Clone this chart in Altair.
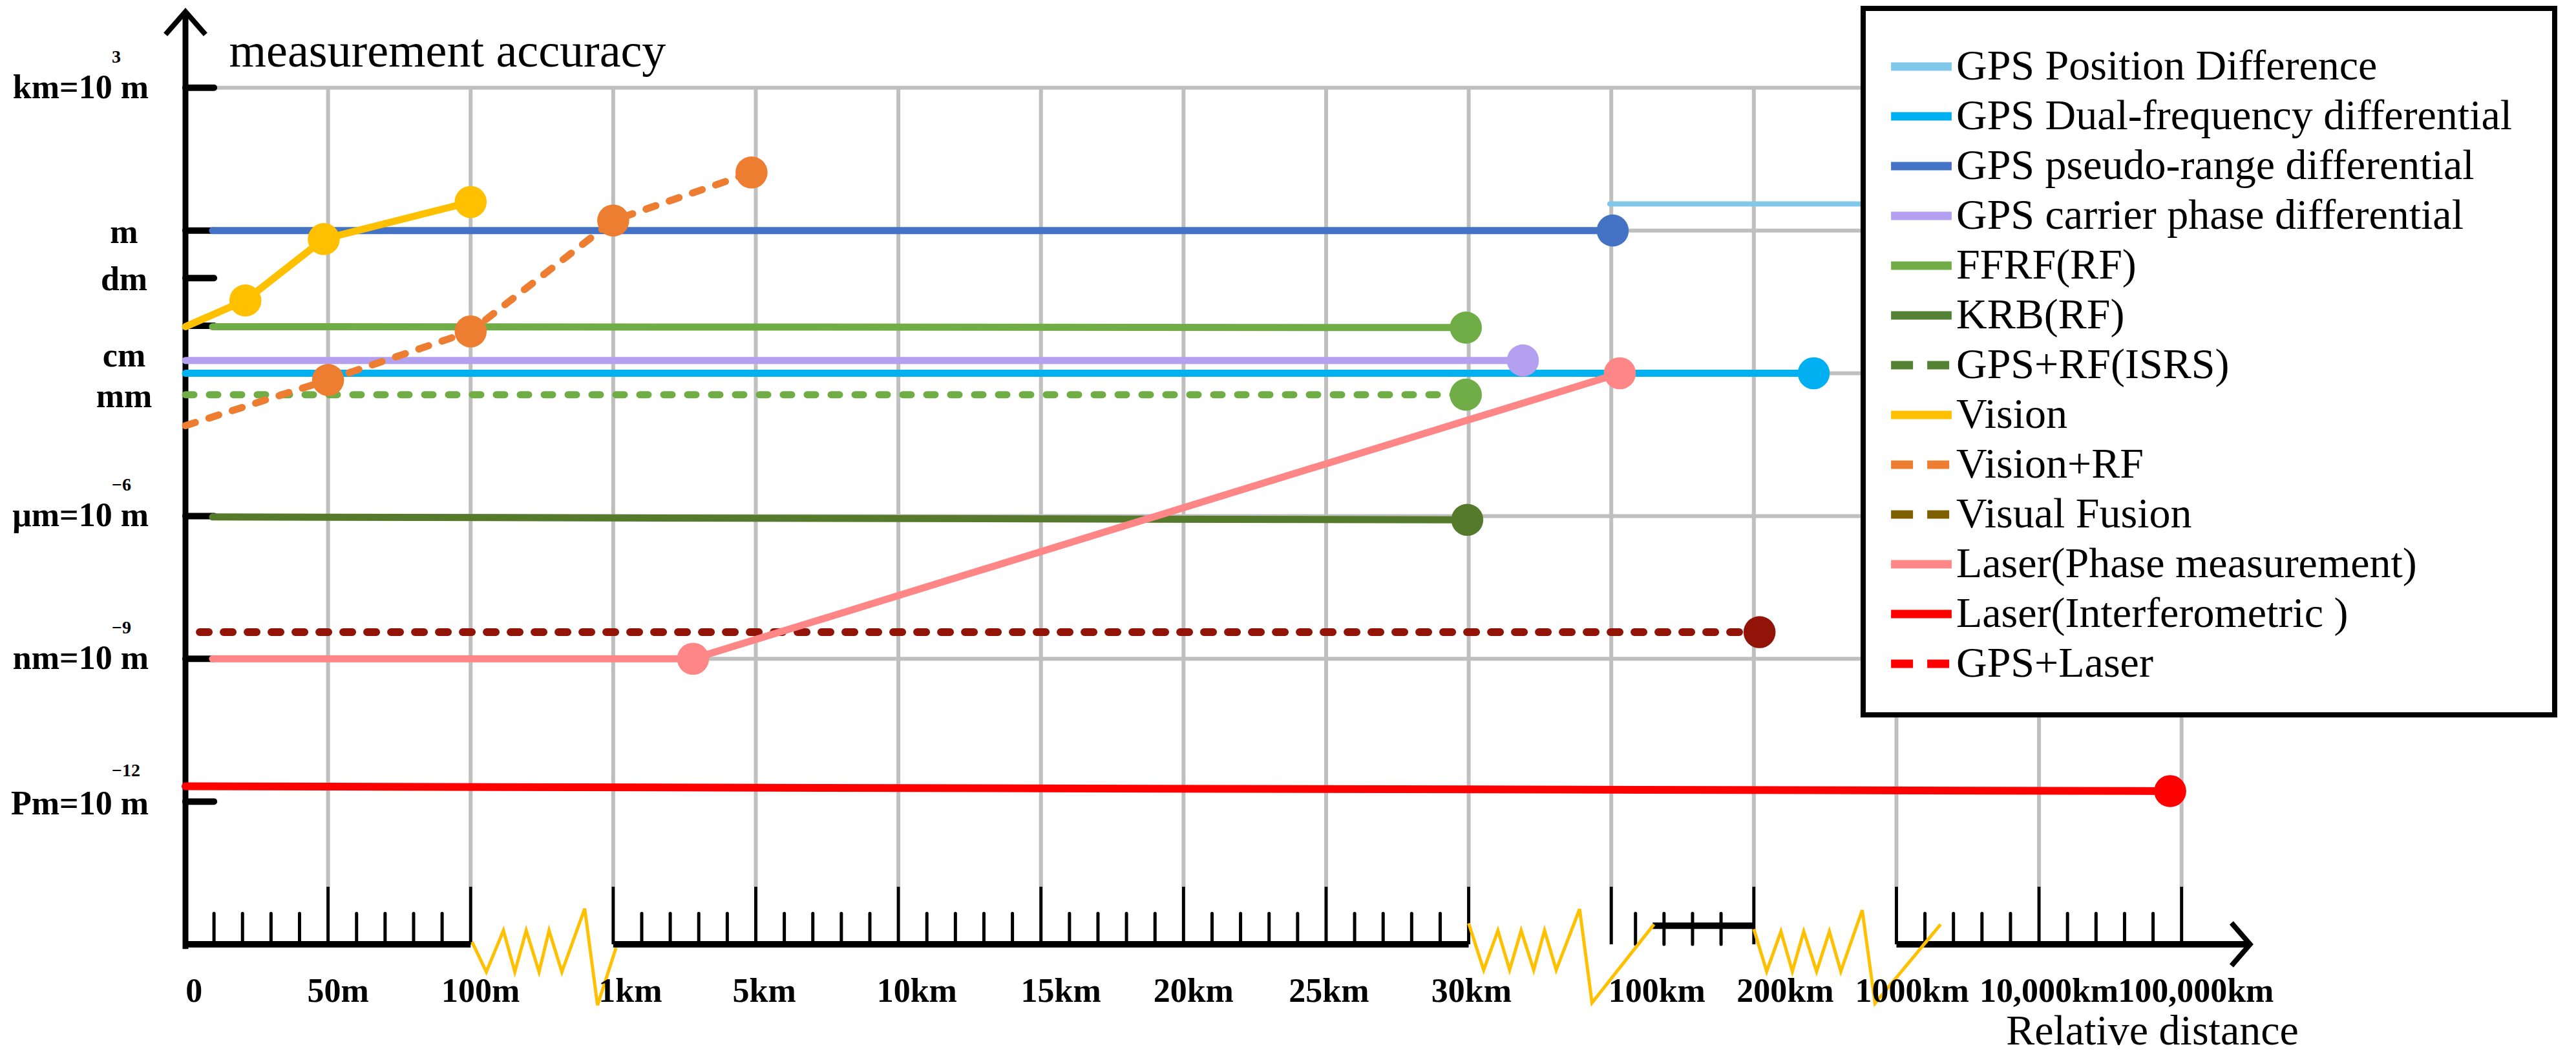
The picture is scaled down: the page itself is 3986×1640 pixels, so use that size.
import altair as alt
import pandas as pd

FONT = "Liberation Serif"

# ---------------- data ----------------
# x: position on the broken distance axis (0=0, 1=50m, 2=100m, 3=1km, 4=5km, 5=10km, 6=15km,
#    7=20km, 8=25km, 9=30km, 10=100km, 11=200km, 12=1000km, 13=10,000km, 14=100,000km)
# y: log10 of the measurement accuracy in metres

SERIES = [
    "GPS Position Difference",
    "GPS Dual-frequency differential",
    "GPS pseudo-range differential",
    "GPS carrier phase differential",
    "FFRF(RF)",
    "KRB(RF)",
    "GPS+RF(ISRS)",
    "Vision",
    "Vision+RF",
    "Visual Fusion",
    "Laser(Phase measurement)",
    "Laser(Interferometric )",
    "GPS+Laser",
]
LEGEND_COLORS = ["#7FC8EA", "#00B0F0", "#4472C4", "#B4A0F0", "#70AD47", "#548235",
                 "#548235", "#FFC000", "#ED7D31", "#7F6000", "#FF8686", "#FF0000", "#FF0000"]
LEGEND_DASHES = [[1, 0], [1, 0], [1, 0], [1, 0], [1, 0], [1, 0],
                 [34, 22], [1, 0], [34, 22], [34, 22], [1, 0], [1, 0], [34, 22]]

GPS_POS_X = [9.99, 14.0]
GPS_POS_Y = [0.56, 0.56]
GPS_POS_MARK = [False, False]

GPS_DUAL_X = [0.0, 11.42]
GPS_DUAL_Y = [-3.0, -3.0]
GPS_DUAL_MARK = [False, True]

GPS_PSEUDO_X = [0.19, 10.01]
GPS_PSEUDO_Y = [0.0, 0.0]
GPS_PSEUDO_MARK = [False, True]

GPS_CARRIER_X = [0.0, 9.38]
GPS_CARRIER_Y = [-2.73, -2.73]
GPS_CARRIER_MARK = [False, True]

FFRF_X = [0.19, 8.98]
FFRF_Y = [-2.02, -2.04]
FFRF_MARK = [False, True]

KRB_X = [0.19, 8.99]
KRB_Y = [-6.02, -6.08]
KRB_MARK = [False, True]

ISRS_X = [0.0, 8.98]
ISRS_Y = [-3.45, -3.45]
ISRS_MARK = [False, True]

VISION_X = [0.0, 0.42, 0.97, 2.0]
VISION_Y = [-2.02, -1.47, -0.18, 0.6]
VISION_MARK = [False, True, True, True]

VISION_RF_X = [0.0, 1.0, 2.0, 3.0, 3.97]
VISION_RF_Y = [-4.1, -3.14, -2.12, 0.21, 1.22]
VISION_RF_MARK = [False, True, True, True, True]

LASER_PHASE_X = [0.19, 3.56, 10.06]
LASER_PHASE_Y = [-9.0, -9.0, -3.0]
LASER_PHASE_MARK = [False, True, True]

LASER_INTER_X = [0.0, 13.92]
LASER_INTER_Y = [-11.68, -11.78]
LASER_INTER_MARK = [False, True]

GPS_LASER_X = [0.1, 11.04]
GPS_LASER_Y = [-8.44, -8.44]
GPS_LASER_MARK = [False, True]

# axis furniture
Y_TICKS = [3, 0, -1, -2, -6, -9, -12]
Y_GRID = [3, 0, -3, -6, -9]
Y_LONG_TEXT = ["km=10 m", "μm=10 m", "nm=10 m", "Pm=10 m"]
Y_LONG_POS = [3, -6, -9, -12.05]
Y_SUP_TEXT = ["3", "−6", "−9", "−12"]
Y_SUP_POS = [3, -6, -9, -12]
Y_SHORT_TEXT = ["m", "dm", "cm", "mm"]
Y_SHORT_POS = [-0.05, -1.04, -2.64, -3.49]

X_MAJOR = list(range(1, 15))
X_MINOR = [0.2, 0.4, 0.6, 0.8, 1.2, 1.4, 1.6, 1.8,
           3.2, 3.4, 3.6, 3.8, 4.2, 4.4, 4.6, 4.8, 5.2, 5.4, 5.6, 5.8,
           6.2, 6.4, 6.6, 6.8, 7.2, 7.4, 7.6, 7.8, 8.2, 8.4, 8.6, 8.8,
           10.17, 10.37, 10.57, 10.77,
           12.2, 12.4, 12.6, 12.8, 13.2, 13.4, 13.6, 13.8]
X_BASE_START = [0.0, 3.0, 12.0]
X_BASE_END = [2.0, 9.0, 14.48]
X_RAISED_START = [10.29]
X_RAISED_END = [11.0]
X_LABEL_TEXT = ["0", "50m", "100m", "1km", "5km", "10km", "15km", "20km", "25km",
                "30km", "100km", "200km", "1000km", "10,000km", "100,000km"]
X_LABEL_POS = [0.06, 1.07, 2.07, 3.12, 4.06, 5.13, 6.14, 7.07, 8.02, 9.02,
               10.32, 11.22, 12.11, 13.07, 14.1]

ZIG1_X = [2.01, 2.11, 2.23, 2.31, 2.39, 2.48, 2.55, 2.64, 2.80, 2.89, 3.02]
ZIG1_Y = [-14.95, -15.58, -14.71, -15.58, -14.71, -15.58, -14.71, -15.58, -14.25, -16.28, -15.07]
ZIG2_X = [9.0, 9.105, 9.205, 9.287, 9.368, 9.456, 9.532, 9.614, 9.778, 9.865, 10.30]
ZIG2_Y = [-14.56, -15.54, -14.71, -15.54, -14.71, -15.54, -14.71, -15.54, -14.26, -16.23, -14.58]
ZIG3_X = [11.0, 11.09, 11.19, 11.27, 11.35, 11.44, 11.53, 11.61, 11.76, 11.85, 12.31]
ZIG3_Y = [-14.68, -15.57, -14.73, -15.57, -14.73, -15.57, -14.73, -15.57, -14.28, -16.24, -14.58]

Y_ARROW_X = [-0.14, 0.0, 0.14]
Y_ARROW_Y = [4.12, 4.6, 4.12]
X_ARROW_X = [14.35, 14.48, 14.35]
X_ARROW_Y = [-14.55, -15.0, -15.45]

# ---------------- styles ----------------
LINE_STYLE = {
    "GPS Position Difference": ("#7FC8EA", None, 8),
    "GPS Dual-frequency differential": ("#00B0F0", None, 11),
    "GPS pseudo-range differential": ("#4472C4", None, 11),
    "GPS carrier phase differential": ("#B4A0F0", None, 11),
    "FFRF(RF)": ("#70AD47", None, 11),
    "KRB(RF)": ("#557A2B", None, 11),
    "GPS+RF(ISRS)": ("#70AD47", [13, 24], 11),
    "Vision": ("#FFC000", None, 11),
    "Vision+RF": ("#ED7D31", [16, 22], 11),
    "Laser(Phase measurement)": ("#FF8686", None, 11),
    "Laser(Interferometric )": ("#FF0000", None, 12),
    "GPS+Laser": ("#921409", [14, 23], 12),
}
SERIES_DATA = {
    "GPS Position Difference": (GPS_POS_X, GPS_POS_Y, GPS_POS_MARK),
    "GPS Dual-frequency differential": (GPS_DUAL_X, GPS_DUAL_Y, GPS_DUAL_MARK),
    "GPS pseudo-range differential": (GPS_PSEUDO_X, GPS_PSEUDO_Y, GPS_PSEUDO_MARK),
    "GPS carrier phase differential": (GPS_CARRIER_X, GPS_CARRIER_Y, GPS_CARRIER_MARK),
    "FFRF(RF)": (FFRF_X, FFRF_Y, FFRF_MARK),
    "KRB(RF)": (KRB_X, KRB_Y, KRB_MARK),
    "GPS+RF(ISRS)": (ISRS_X, ISRS_Y, ISRS_MARK),
    "GPS+Laser": (GPS_LASER_X, GPS_LASER_Y, GPS_LASER_MARK),
    "Laser(Interferometric )": (LASER_INTER_X, LASER_INTER_Y, LASER_INTER_MARK),
    "Laser(Phase measurement)": (LASER_PHASE_X, LASER_PHASE_Y, LASER_PHASE_MARK),
    "Vision+RF": (VISION_RF_X, VISION_RF_Y, VISION_RF_MARK),
    "Vision": (VISION_X, VISION_Y, VISION_MARK),
}

GRID = "#BFBFBF"
W, H = 3199, 1443

XS = alt.Scale(domain=[0, 14.5], nice=False, zero=False)
YS = alt.Scale(domain=[-15, 4.6], nice=False, zero=False)
X_AXIS = alt.Axis(title="Relative distance", domain=False, ticks=False, labels=False, grid=False,
                  titleX=3043, titleY=154, titleAlign="center", titleBaseline="alphabetic", titleAngle=0,
                  titleFont=FONT, titleFontSize=66, titleFontWeight="normal", titleColor="black")
Y_AXIS = alt.Axis(title="measurement accuracy", domain=False, ticks=False, labels=False, grid=False,
                  titleX=67, titleY=84, titleAlign="left", titleBaseline="alphabetic", titleAngle=0,
                  titleFont=FONT, titleFontSize=74, titleFontWeight="normal", titleColor="black")


def X(f="x"):
    return alt.X(f"{f}:Q", scale=XS, axis=X_AXIS)


def Y(f="y"):
    return alt.Y(f"{f}:Q", scale=YS, axis=Y_AXIS)


layers = []

# legend carrier (invisible marks, visible legend)
carrier = pd.DataFrame({"series": [s for s in SERIES for _ in range(2)],
                        "x": [0.0] * (2 * len(SERIES)), "y": [-15.0] * (2 * len(SERIES))})
legend = alt.Legend(title=" ", titleOrient="right", titlePadding=20, titleFontSize=66, titleFont=FONT,
                    orient="none", legendX=2596, legendY=-5, direction="vertical",
                    symbolType="M-1.25,0H1.25", symbolSize=5625, symbolStrokeWidth=13, symbolOpacity=1,
                    symbolFillColor="transparent",
                    labelFont=FONT, labelFontSize=66, labelColor="black", labelOffset=10,
                    labelLimit=3000, rowPadding=0, padding=46,
                    strokeColor="black", fillColor="white")
layers.append(
    alt.Chart(carrier).mark_line(opacity=0, strokeWidth=13).encode(
        x=X(), y=Y(), detail="series:N",
        color=alt.Color("series:N", scale=alt.Scale(domain=SERIES, range=LEGEND_COLORS), legend=legend),
        strokeDash=alt.StrokeDash("series:N", scale=alt.Scale(domain=SERIES, range=LEGEND_DASHES), legend=legend),
    )
)

# gridlines
hgrid = pd.DataFrame({"y": Y_GRID, "x": [0.19] * len(Y_GRID), "x2": [14.0] * len(Y_GRID)})
layers.append(alt.Chart(hgrid).mark_rule(color=GRID, strokeWidth=6).encode(x=X(), x2="x2:Q", y=Y()))
vgrid = pd.DataFrame({"x": X_MAJOR, "y": [3.0] * len(X_MAJOR), "y2": [-13.79] * len(X_MAJOR)})
layers.append(alt.Chart(vgrid).mark_rule(color=GRID, strokeWidth=6).encode(x=X(), y=Y(), y2="y2:Q"))

# y axis line, ticks and arrow
yline = pd.DataFrame({"x": [0.0], "y": [-15.1], "y2": [4.6]})
layers.append(alt.Chart(yline).mark_rule(color="black", strokeWidth=9).encode(x=X(), y=Y(), y2="y2:Q"))
yt = pd.DataFrame({"y": Y_TICKS, "x": [0.0] * len(Y_TICKS), "x2": [0.2] * len(Y_TICKS)})
layers.append(alt.Chart(yt).mark_rule(color="black", strokeWidth=10, strokeCap="round").encode(x=X(), x2="x2:Q", y=Y()))
ya = pd.DataFrame({"x": Y_ARROW_X, "y": Y_ARROW_Y, "i": [0, 1, 2]})
layers.append(alt.Chart(ya).mark_line(color="black", strokeWidth=8, strokeJoin="miter").encode(x=X(), y=Y(), order="i:Q"))

# x axis ruler
base = pd.DataFrame({"x": X_BASE_START, "x2": X_BASE_END, "y": [-15.0] * len(X_BASE_START)})
layers.append(alt.Chart(base).mark_rule(color="black", strokeWidth=10).encode(x=X(), x2="x2:Q", y=Y()))
raised = pd.DataFrame({"x": X_RAISED_START, "x2": X_RAISED_END, "y": [-14.61]})
layers.append(alt.Chart(raised).mark_rule(color="black", strokeWidth=10).encode(x=X(), x2="x2:Q", y=Y()))
major = pd.DataFrame({"x": X_MAJOR, "y": [-15.0] * len(X_MAJOR), "y2": [-13.79] * len(X_MAJOR)})
layers.append(alt.Chart(major).mark_rule(color="black", strokeWidth=5).encode(x=X(), y=Y(), y2="y2:Q"))
minor = pd.DataFrame({"x": X_MINOR, "y": [-15.0] * len(X_MINOR), "y2": [-14.35] * len(X_MINOR)})
layers.append(alt.Chart(minor).mark_rule(color="black", strokeWidth=5, strokeCap="round").encode(x=X(), y=Y(), y2="y2:Q"))
xa = pd.DataFrame({"x": X_ARROW_X, "y": X_ARROW_Y, "i": [0, 1, 2]})
layers.append(alt.Chart(xa).mark_line(color="black", strokeWidth=8, strokeJoin="miter").encode(x=X(), y=Y(), order="i:Q"))

# axis breaks
for zx, zy in [(ZIG1_X, ZIG1_Y), (ZIG2_X, ZIG2_Y), (ZIG3_X, ZIG3_Y)]:
    zdf = pd.DataFrame({"x": zx, "y": zy, "i": list(range(len(zx)))})
    layers.append(alt.Chart(zdf).mark_line(color="#FFC000", strokeWidth=5).encode(x=X(), y=Y(), order="i:Q"))

# axis labels
xl = pd.DataFrame({"x": X_LABEL_POS, "y": [-15.0] * len(X_LABEL_POS), "t": X_LABEL_TEXT})
layers.append(alt.Chart(xl).mark_text(font=FONT, fontSize=52, fontWeight="bold", color="black",
                                      align="center", baseline="middle", dy=73).encode(x=X(), y=Y(), text="t:N"))
yl = pd.DataFrame({"x": [0.0] * len(Y_LONG_POS), "y": Y_LONG_POS, "t": Y_LONG_TEXT})
layers.append(alt.Chart(yl).mark_text(font=FONT, fontSize=52, fontWeight="bold", color="black",
                                      align="right", baseline="middle", dx=-57).encode(x=X(), y=Y(), text="t:N"))
ys = pd.DataFrame({"x": [0.0] * len(Y_SHORT_POS), "y": Y_SHORT_POS, "t": Y_SHORT_TEXT})
layers.append(alt.Chart(ys).mark_text(font=FONT, fontSize=52, fontWeight="bold", color="black",
                                      align="center", baseline="middle", dx=-95).encode(x=X(), y=Y(), text="t:N"))
ysup = pd.DataFrame({"x": [0.0] * len(Y_SUP_POS), "y": Y_SUP_POS, "t": Y_SUP_TEXT})
layers.append(alt.Chart(ysup).mark_text(font=FONT, fontSize=28, fontWeight="bold", color="black",
                                        align="left", baseline="middle", dx=-114, dy=-47).encode(x=X(), y=Y(), text="t:N"))

# series lines
for name, (sx, sy, sm) in SERIES_DATA.items():
    color, dash, width = LINE_STYLE[name]
    df = pd.DataFrame({"x": sx, "y": sy, "i": list(range(len(sx)))})
    kw = dict(color=color, strokeWidth=width, strokeCap="round")
    if dash:
        kw["strokeDash"] = dash
    layers.append(alt.Chart(df).mark_line(**kw).encode(x=X(), y=Y(), order="i:Q"))

# series markers
for name, (sx, sy, sm) in SERIES_DATA.items():
    color = LINE_STYLE[name][0]
    mx = [a for a, m in zip(sx, sm) if m]
    my = [b for b, m in zip(sy, sm) if m]
    if not mx:
        continue
    df = pd.DataFrame({"x": mx, "y": my})
    layers.append(alt.Chart(df).mark_circle(color=color, size=2460, opacity=1).encode(x=X(), y=Y()))

chart = alt.layer(*layers).properties(
    width=W, height=H,
    padding={"left": 279, "top": 10, "right": 485, "bottom": 170},
    autosize=alt.AutoSizeParams(type="none"),
).configure(font=FONT).configure_view(strokeWidth=0).configure_legend(strokeWidth=8)

chart.save("out.html", embed_options={"renderer": "svg", "actions": False})
